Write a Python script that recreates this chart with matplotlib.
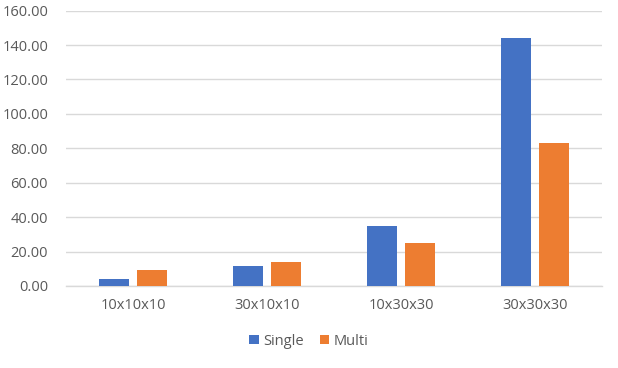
import matplotlib.pyplot as plt
import numpy as np
from matplotlib.ticker import FormatStrFormatter

categories = ['10x10x10', '30x10x10', '10x30x30', '30x30x30']
single = [4.2, 11.8, 34.9, 144.2]
multi = [9.5, 14.1, 25.0, 83.1]

blue = '#4472C4'
orange = '#ED7D31'
grey_text = '#595959'
grid_col = '#D9D9D9'

plt.rcParams['font.family'] = ['Open Sans', 'DejaVu Sans']

fig = plt.figure(figsize=(6.18, 3.68), dpi=100)
ax = fig.add_axes([0.107, 0.223, 0.867, 0.748])

x = np.arange(len(categories))
w = 0.224
off = 0.142
ax.bar(x - off, single, w, color=blue, label='Single', zorder=3)
ax.bar(x + off, multi, w, color=orange, label='Multi', zorder=3)

ax.set_xlim(-0.5, len(categories) - 0.5)
ax.set_ylim(0, 160)
ax.set_yticks(np.arange(0, 161, 20))
ax.yaxis.set_major_formatter(FormatStrFormatter('%.2f'))
ax.set_xticks(x)
ax.set_xticklabels(categories)

ax.grid(axis='y', color=grid_col, linewidth=1, zorder=0)
for s in ['top', 'right', 'left']:
    ax.spines[s].set_visible(False)
ax.spines['bottom'].set_color(grid_col)
ax.spines['bottom'].set_linewidth(1)
ax.tick_params(axis='both', length=0, labelsize=10.5, colors=grey_text)
ax.tick_params(axis='x', pad=9)
ax.tick_params(axis='y', pad=13)

leg = fig.legend(loc='center', bbox_to_anchor=(0.5, 0.073), ncol=2, frameon=False,
                 fontsize=10.5, handlelength=0.65, handleheight=0.65, handletextpad=0.3,
                 columnspacing=1.1)
for t in leg.get_texts():
    t.set_color(grey_text)

plt.savefig('out.png', dpi=100)
